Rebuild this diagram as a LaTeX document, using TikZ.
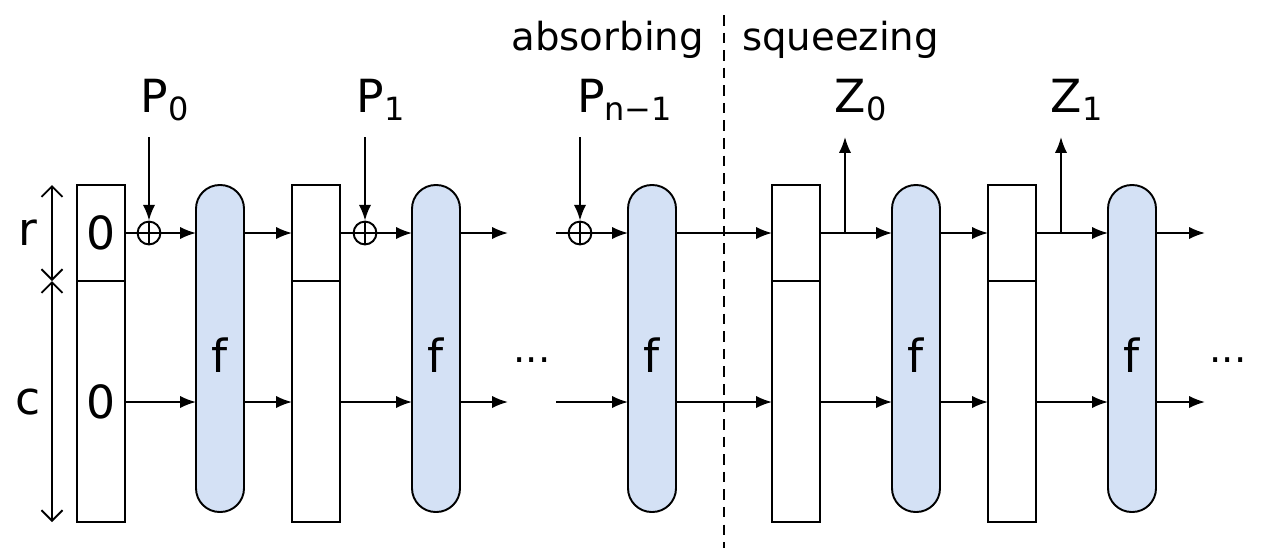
\documentclass[tikz,border=0pt]{standalone}
\usepackage{fontspec}
\setmainfont{DejaVu Sans}
\usetikzlibrary{arrows.meta,calc}
\definecolor{fblue}{HTML}{D4E1F5}
\begin{document}
\begin{tikzpicture}[x=0.02cm,y=-0.02cm,
  ln/.style={line width=1.1pt},
  arr/.style={ln,-{Latex[length=9pt,width=7pt]}},
  st/.style={ln,draw,fill=white},
  fbox/.style={ln,draw,fill=fblue,rounded corners=13.5pt},
  big/.style={font=\fontsize{26}{30}\selectfont},
  mid/.style={font=\fontsize{22}{26}\selectfont},
  xor/.style={ln,draw,circle,minimum size=13pt,inner sep=0pt}]
\useasboundingbox (0,0) rectangle (1263,558);
% state boxes
\foreach \n/\x in {s1/77,s2/292,s3/772,s4/988}{
  \draw[st] (\x,185) rectangle (\x+48,522);
  \draw[ln] (\x,281) -- (\x+48,281);
  \coordinate (\n r) at (\x+48,233); \coordinate (\n c) at (\x+48,402);
  \coordinate (\n rl) at (\x,233); \coordinate (\n cl) at (\x,402);
}
% f boxes
\foreach \n/\x in {f1/196,f2/412,f3/628,f4/892,f5/1108}{
  \draw[fbox] (\x,185) rectangle (\x+48,512);
  \node[big] at (\x+24,355) {f};
  \coordinate (\n r) at (\x+48,233); \coordinate (\n c) at (\x+48,402);
  \coordinate (\n rl) at (\x,233); \coordinate (\n cl) at (\x,402);
}
\node[big] at (101,233) {0};
\node[big] at (101,402) {0};
% xor circles
\node[xor] (x1) at (149,233) {};
\node[xor] (x2) at (365,233) {};
\node[xor] (x3) at (580,233) {};
\foreach \c in {x1,x2,x3}{
  \draw[ln] (\c.north) -- (\c.south); \draw[ln] (\c.west) -- (\c.east);}
% P labels
\node[big] (p0) at (165,100) {P\textsubscript{0}};
\node[big] (p1) at (381,100) {P\textsubscript{1}};
\node[big] (p2) at (625,100) {P\textsubscript{n−1}};
\coordinate (p0a) at (149,137); \coordinate (p1a) at (365,137); \coordinate (p2a) at (580,137);
\draw[arr] (p0a) -- (x1.north);
\draw[arr] (p1a) -- (x2.north);
\draw[arr] (p2a) -- (x3.north);
% r row
\draw[ln] (s1r) -- (x1.west); \draw[arr] (x1.east) -- (f1rl);
\draw[arr] (f1r) -- (s2rl);
\draw[ln] (s2r) -- (x2.west); \draw[arr] (x2.east) -- (f2rl);
\coordinate (e1r) at (508,233); \coordinate (b3r) at (556,233);
\draw[arr] (f2r) -- (e1r);
\draw[ln] (b3r) -- (x3.west); \draw[arr] (x3.east) -- (f3rl);
\draw[arr] (f3r) -- (s3rl);
\draw[arr] (s3r) -- (f4rl);
\draw[arr] (f4r) -- (s4rl);
\draw[arr] (s4r) -- (f5rl);
\coordinate (e2r) at (1205,233); \draw[arr] (f5r) -- (e2r);
% c row
\draw[arr] (s1c) -- (f1cl);
\draw[arr] (f1c) -- (s2cl);
\draw[arr] (s2c) -- (f2cl);
\coordinate (e1c) at (508,402); \coordinate (b3c) at (556,402);
\draw[arr] (f2c) -- (e1c);
\draw[arr] (b3c) -- (f3cl);
\draw[arr] (f3c) -- (s3cl);
\draw[arr] (s3c) -- (f4cl);
\draw[arr] (f4c) -- (s4cl);
\draw[arr] (s4c) -- (f5cl);
\coordinate (e2c) at (1205,402); \draw[arr] (f5c) -- (e2c);
% Z outputs
\coordinate (z0b) at (845,233); \coordinate (z0t) at (845,137);
\coordinate (z1b) at (1061,233); \coordinate (z1t) at (1061,137);
\draw[arr] (z0b) -- (z0t);
\draw[arr] (z1b) -- (z1t);
\node[big] at (861,100) {Z\textsubscript{0}};
\node[big] at (1077,100) {Z\textsubscript{1}};
% dots
\node[mid] at (532,360) {...};
\node[mid] at (1228,360) {...};
% divider
\draw[ln,dash pattern=on 6pt off 4pt] (724,15) -- (724,548);
\node[mid,anchor=east] at (710,40) {absorbing};
\node[mid,anchor=west] at (736,40) {squeezing};
% r and c dimensions
\coordinate (d0) at (52,185); \coordinate (d1) at (52,281); \coordinate (d2) at (52,522);
\draw[ln,{Straight Barb[length=6pt]}-{Straight Barb[length=6pt]}] (d0) -- (d1);
\draw[ln,{Straight Barb[length=6pt]}-{Straight Barb[length=6pt]}] (d1) -- (d2);
\node[big] at (28,233) {r};
\node[big] at (28,402) {c};
\end{tikzpicture}
\end{document}
